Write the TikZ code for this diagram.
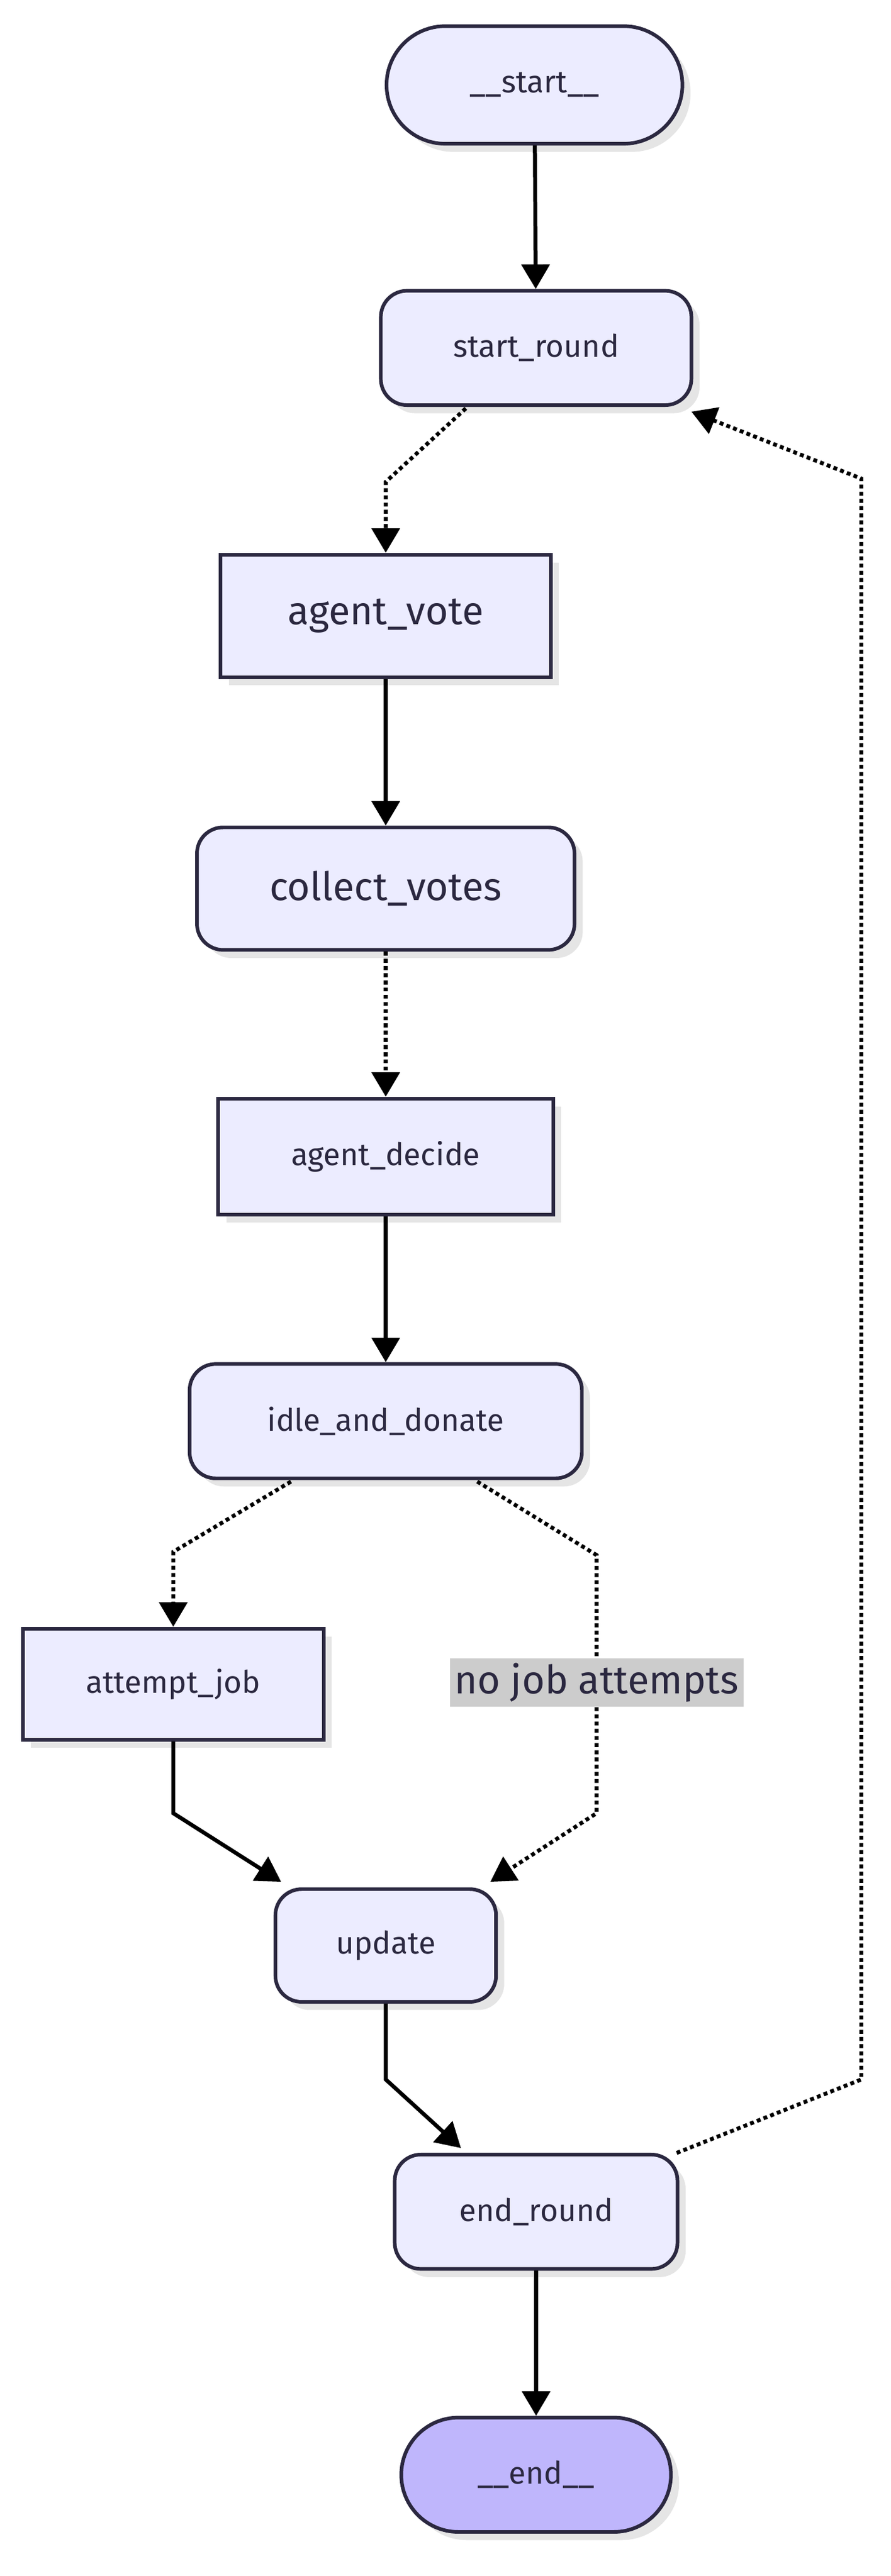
\documentclass[tikz,border=0pt]{standalone}
\usepackage{fontspec}
\setmainfont{Fira Sans}
\usetikzlibrary{arrows.meta,shapes.misc,shadows}
\definecolor{nodefill}{HTML}{ECECFF}
\definecolor{nodeline}{HTML}{2B2840}
\definecolor{endfill}{HTML}{BFB6FC}
\begin{document}
\begin{tikzpicture}[
      x=1pt, y=-1pt,
      every node/.style={font=\fontsize{19}{22}\selectfont, text=nodeline},
      box/.style={draw=nodeline, line width=2.2pt, fill=nodefill, inner sep=0pt,
        drop shadow={shadow xshift=5pt, shadow yshift=-5pt, fill=black!10, opacity=1}},
      roundbox/.style={box, rounded corners=16pt},
      stadium/.style={box, rounded rectangle},
      flow/.style={line width=2.4pt, -{Triangle[length=15pt,width=17pt]}},
      loose/.style={flow, dotted, line width=2.4pt}
      ]
  \useasboundingbox (0,0) rectangle (545,1577);

  \node[stadium, minimum width=181pt, minimum height=72pt]   (start)  at (327,52)   {\_\_start\_\_};
  \node[roundbox, minimum width=190pt, minimum height=70pt]  (round)  at (328,213)  {start\_round};
  \node[box, minimum width=202pt, minimum height=75pt, font=\fontsize{24}{28}\selectfont] (vote) at (236,377) {agent\_vote};
  \node[roundbox, minimum width=231pt, minimum height=75pt, font=\fontsize{24}{28}\selectfont] (collect) at (236,544) {collect\_votes};
  \node[box, minimum width=205pt, minimum height=71pt]       (decide) at (236,708)  {agent\_decide};
  \node[roundbox, minimum width=240pt, minimum height=70pt]  (idle)   at (236,870)  {idle\_and\_donate};
  \node[box, minimum width=184pt, minimum height=68pt]       (job)    at (106,1031) {attempt\_job};
  \node[roundbox, minimum width=135pt, minimum height=69pt]  (update) at (236,1191) {update};
  \node[roundbox, minimum width=173pt, minimum height=70pt]  (endr)   at (328,1354) {end\_round};
  \node[stadium, fill=endfill, minimum width=165pt, minimum height=70pt] (finish) at (328,1515) {\_\_end\_\_};
  \node[fill=black!20, inner sep=3pt, font=\fontsize{24}{28}\selectfont] (noattempt) at (365,1030) {no job attempts};

  % bend points
  \coordinate (b1) at (236,295);
  \coordinate (b2) at (106,950);
  \coordinate (b3) at (365,952);
  \coordinate (b4) at (365,1110);
  \coordinate (b5) at (106,1110);
  \coordinate (b6) at (236,1273);
  \coordinate (b7) at (527,1273);
  \coordinate (b8) at (527,293);

  \draw[flow] (start) -- (round);
  \draw[loose] (285,250) -- (b1) -- (vote);
  \draw[flow] (vote) -- (collect);
  \draw[loose] (collect) -- (decide);
  \draw[flow] (decide) -- (idle);
  \draw[loose] (178,907) -- (b2) -- (job);
  \draw[loose] (292,907) -- (b3) -- (noattempt) -- (b4) -- (300,1152);
  \draw[flow] (job) -- (b5) -- (172,1152);
  \draw[flow] (update) -- (b6) -- (282,1315);
  \draw[loose] (414,1318) -- (b7) -- (b8) -- (423,252);
  \draw[flow] (endr) -- (finish);
\end{tikzpicture}
\end{document}
